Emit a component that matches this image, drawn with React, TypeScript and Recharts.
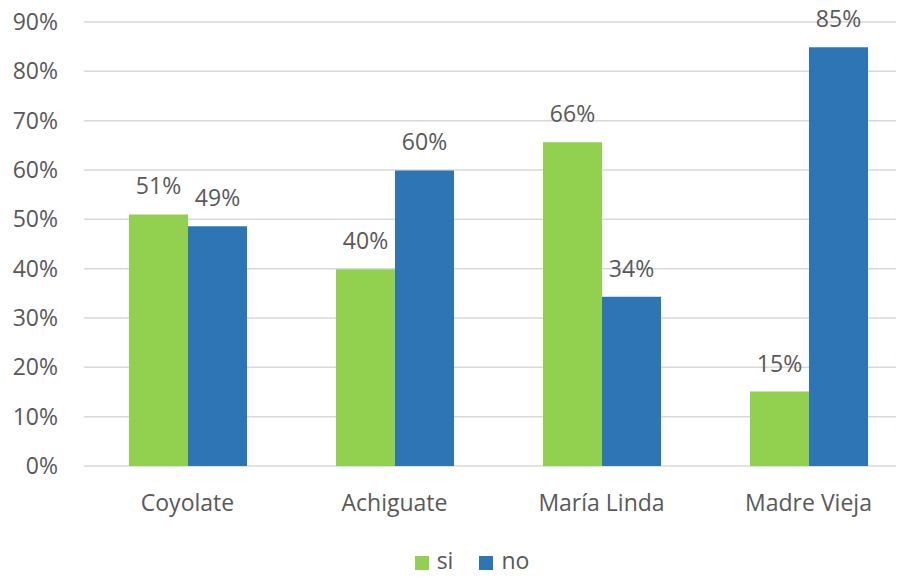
import { BarChart, Bar, XAxis, YAxis, CartesianGrid, LabelList } from "recharts";

const categories = ["Coyolate", "Achiguate", "María Linda", "Madre Vieja"];
const siValues = [51.0, 39.9, 65.6, 15.1];
const noValues = [48.6, 59.9, 34.3, 84.9];
const yTicks = [0, 10, 20, 30, 40, 50, 60, 70, 80, 90];

const SI_COLOR = "#92D050";
const NO_COLOR = "#2E75B6";
const TEXT_COLOR = "#595959";
const FONT = "'Open Sans', 'Noto Sans', sans-serif";

const data = categories.map((name, i) => ({
  name,
  si: siValues[i],
  no: noValues[i],
}));

const legendItems = [
  { label: "si", color: SI_COLOR },
  { label: "no", color: NO_COLOR },
];

const pct = (v: any) => `${Math.round(Number(v))}%`;

export default function App() {
  return (
    <div
      style={{
        margin: -8,
        width: 904,
        height: 578,
        overflow: "hidden",
        position: "relative",
        background: "#fff",
        fontFamily: FONT,
      }}
    >
      <BarChart
        width={912}
        height={578}
        data={data}
        margin={{ top: 22, right: 0, bottom: 62, left: 0 }}
        barGap={0}
        barCategoryGap={44}
      >
        <CartesianGrid vertical={false} stroke="#d9d9d9" strokeWidth={1.5} />
        <XAxis
          dataKey="name"
          axisLine={false}
          tickLine={false}
          tickSize={0}
          tickMargin={29}
          height={50}
          tick={{ fill: TEXT_COLOR, fontSize: 23 }}
        />
        <YAxis
          width={84}
          domain={[0, 90]}
          ticks={yTicks}
          tickFormatter={pct}
          axisLine={false}
          tickLine={false}
          tickSize={0}
          tickMargin={26}
          tick={{ fill: TEXT_COLOR, fontSize: 23 }}
        />
        <Bar dataKey="si" fill={SI_COLOR} barSize={59} isAnimationActive={false}>
          <LabelList dataKey="si" position="top" offset={20} formatter={pct} fill={TEXT_COLOR} fontSize={23} />
        </Bar>
        <Bar dataKey="no" fill={NO_COLOR} barSize={59} isAnimationActive={false}>
          <LabelList dataKey="no" position="top" offset={20} formatter={pct} fill={TEXT_COLOR} fontSize={23} />
        </Bar>
      </BarChart>

      {/* legend row under the axis labels */}
      <div
        style={{
          position: "absolute",
          top: 548,
          left: 0,
          width: 904,
          height: 30,
          display: "flex",
          justifyContent: "center",
          alignItems: "center",
          gap: 26,
          fontSize: 23,
          color: TEXT_COLOR,
          lineHeight: 1,
          paddingLeft: 40,
          boxSizing: "border-box",
        }}
      >
        {legendItems.map((item) => (
          <span key={item.label} style={{ display: "flex", alignItems: "center" }}>
            <span
              style={{
                display: "inline-block",
                width: 14,
                height: 15,
                background: item.color,
                marginRight: 8,
              }}
            />
            <span style={{ position: "relative", top: -3 }}>{item.label}</span>
          </span>
        ))}
      </div>
    </div>
  );
}
